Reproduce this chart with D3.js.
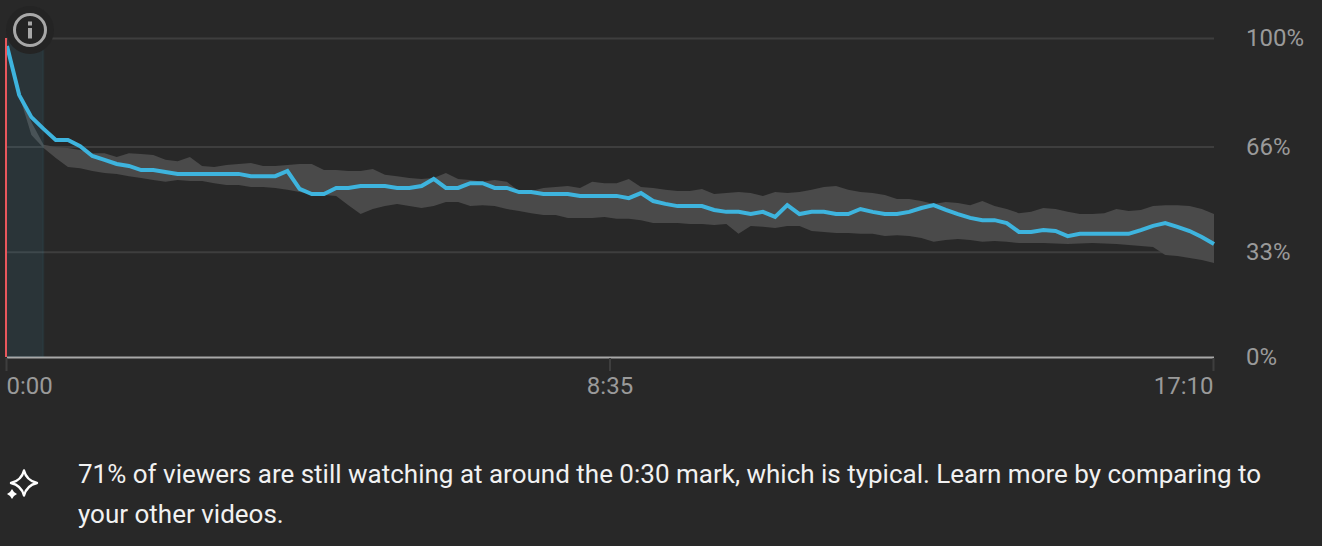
<!DOCTYPE html>
<html><head><meta charset="utf-8">
<script src="https://cdn.jsdelivr.net/npm/d3@7/dist/d3.min.js"></script>
<style>
html,body{margin:0;padding:0;background:#282828;overflow:hidden}
svg{display:block;font-family:Roboto,sans-serif}
</style></head><body><svg id="c" width="1322" height="546"></svg>
<script>
const retention=[97.5,82.1,75.2,71.5,68.0,68.0,66.1,63.0,61.8,60.5,59.9,58.6,58.6,58.0,57.4,57.4,57.4,57.4,57.4,57.4,56.7,56.7,56.7,58.3,52.7,51.1,51.1,53.0,53.0,53.6,53.6,53.6,53.0,53.0,53.6,55.8,53.0,53.0,54.5,54.5,53.0,53.0,51.7,51.7,51.1,51.1,51.1,50.5,50.5,50.5,50.5,49.8,51.4,48.9,48.0,47.3,47.3,47.3,46.1,45.5,45.5,44.8,45.5,43.9,47.6,44.8,45.5,45.5,44.8,44.8,46.4,45.5,44.8,44.8,45.5,46.7,47.6,46.1,44.8,43.6,42.9,42.9,42.0,39.2,39.2,39.8,39.5,37.9,38.6,38.6,38.6,38.6,38.6,39.8,41.1,42.0,40.8,39.5,37.6,35.4];
const typicalHigh=[96.2,82.1,73.7,66.5,65.8,65.5,64.9,63.9,63.9,62.7,63.9,63.6,63.3,61.8,61.4,62.7,59.9,59.6,60.2,60.5,60.8,59.9,59.9,60.2,60.5,60.5,58.6,58.6,58.3,58.3,58.9,57.1,56.7,56.1,55.8,56.1,57.7,55.8,55.5,54.9,55.5,54.9,52.0,52.0,53.0,53.3,53.6,53.0,54.9,54.5,54.5,55.8,53.3,53.0,52.4,52.0,52.0,52.7,51.1,51.4,51.7,51.4,50.5,51.7,51.4,51.7,52.4,53.3,53.6,52.4,51.7,51.4,50.8,49.5,49.5,48.9,48.0,48.6,48.3,47.6,48.9,47.3,46.4,45.1,45.5,46.7,46.4,45.5,44.8,44.8,45.1,46.4,45.8,46.1,47.3,47.6,47.6,47.3,46.4,44.8];
const typicalLow=[96.2,82.1,69.6,65.5,62.4,59.6,59.2,58.3,57.7,57.4,56.7,56.1,55.5,54.9,55.5,55.2,55.2,54.5,53.9,53.9,53.3,53.3,53.0,52.4,51.7,51.1,50.8,50.5,47.6,44.8,46.4,47.3,48.0,47.3,46.7,47.3,48.6,48.6,47.3,47.6,47.3,46.4,45.8,45.1,44.5,44.5,43.6,43.6,43.6,43.9,43.3,43.3,42.9,42.0,42.0,42.0,41.7,41.7,41.4,41.7,38.6,41.1,40.8,40.4,41.1,41.1,39.5,39.2,38.9,38.9,38.6,38.6,37.9,38.2,37.9,37.3,36.1,36.7,37.0,36.7,36.1,36.4,36.1,35.7,35.7,35.7,35.6,35.4,35.6,35.7,35.6,35.4,35.1,34.8,34.5,32.0,31.7,31.0,30.4,29.5];
const durationSeconds=1030;
const xTicks=[0,515,1030];
const xTickLabels=["0:00","8:35","17:10"];
const yTicks=[0,33,66,100];
const introEnd=31;
const insightLines=["71% of viewers are still watching at around the 0:30 mark, which is typical. Learn more by comparing to","your other videos."];

const svg=d3.select("#c");
const x=d3.scaleLinear().domain([0,durationSeconds]).range([7,1214]);
const y=d3.scaleLinear().domain([0,100]).range([357,38]);
const t=i=>i*durationSeconds/(retention.length-1);

// y grid + labels
const yAxis=d3.axisRight(y).tickValues(yTicks).tickSize(1207).tickPadding(32).tickFormat(d=>d+"%");
const gy=svg.append("g").attr("transform","translate(7,0)").call(yAxis).attr("font-family",null).attr("font-size",null);
gy.select(".domain").remove();
gy.selectAll("line").attr("stroke",d=>d===0?"#a8a8a8":"#3e3e3e").attr("stroke-width",2);
gy.selectAll("text").attr("fill","#9a9a9a").style("font-size","24px");

// band
svg.append("path").datum(retention)
  .attr("fill","#4a4a4a")
  .attr("d",d3.area().x((d,i)=>x(t(i))).y0((d,i)=>y(typicalLow[i])).y1((d,i)=>y(typicalHigh[i])));

// intro highlight
svg.append("rect").attr("x",x(0)).attr("y",y(100)).attr("width",x(introEnd)-x(0)).attr("height",y(0)-y(100))
  .attr("fill","#3eb4de").attr("fill-opacity",0.09);
svg.append("line").attr("x1",x(introEnd)).attr("x2",x(introEnd)).attr("y1",y(100)).attr("y2",y(0))
  .attr("stroke","#3eb4de").attr("stroke-opacity",0.06).attr("stroke-width",2);

// retention line
svg.append("path").datum(retention).attr("fill","none").attr("stroke","#3eb4de").attr("stroke-width",4)
  .attr("stroke-linejoin","miter")
  .attr("d",d3.line().x((d,i)=>x(t(i))).y(d=>y(d)));

// red start line
svg.append("line").attr("x1",x(0)-1).attr("x2",x(0)-1).attr("y1",y(100)).attr("y2",y(0))
  .attr("stroke","#e9575c").attr("stroke-width",2);

// x axis
const xAxis=d3.axisBottom(x).tickValues(xTicks).tickSize(13).tickPadding(6).tickFormat((d,i)=>xTickLabels[i]);
const gx=svg.append("g").attr("transform","translate(-1,358)").call(xAxis).attr("font-family",null).attr("font-size",null);
gx.select(".domain").remove();
gx.selectAll("line").attr("stroke","#3e3e3e").attr("stroke-width",2);
gx.selectAll("text").attr("fill","#9a9a9a").style("font-size","24px")
  .attr("text-anchor",(d,i)=>i===0?"start":i===2?"end":"middle");

// info icon
const info=svg.append("g").attr("transform","translate(30,30)");
info.append("circle").attr("r",24).attr("fill","#242424");
info.append("circle").attr("r",15.5).attr("fill","none").attr("stroke","#a8a8a8").attr("stroke-width",3);
info.append("rect").attr("x",-2).attr("y",-2).attr("width",4).attr("height",10.5).attr("fill","#a8a8a8");
info.append("rect").attr("x",-2).attr("y",-8.5).attr("width",4).attr("height",4).attr("fill","#a8a8a8");

// insight
const sp=svg.append("g").attr("transform","translate(24,483)");
const star=d3.path();
star.moveTo(0,-12.5);star.quadraticCurveTo(2.5,-2.5,13,0);star.quadraticCurveTo(2.5,2.5,0,12.5);
star.quadraticCurveTo(-2.5,2.5,-13,0);star.quadraticCurveTo(-2.5,-2.5,0,-12.5);star.closePath();
sp.append("path").attr("d",star.toString()).attr("fill","none").attr("stroke","#fff").attr("stroke-width",2.4).attr("stroke-linejoin","round");
const small=d3.path();
small.moveTo(0,-5);small.quadraticCurveTo(1.5,-1.5,5,0);small.quadraticCurveTo(1.5,1.5,0,5);small.quadraticCurveTo(-1.5,1.5,-5,0);small.quadraticCurveTo(-1.5,-1.5,0,-5);small.closePath();
sp.append("path").attr("d",small.toString()).attr("fill","#fff").attr("transform","translate(-12,11)");
svg.append("g").selectAll("text").data(insightLines).join("text")
  .attr("x",78).attr("y",(d,i)=>483+i*40).attr("fill","#f1f1f1").style("font-size","26px").text(d=>d);
</script></body></html>
